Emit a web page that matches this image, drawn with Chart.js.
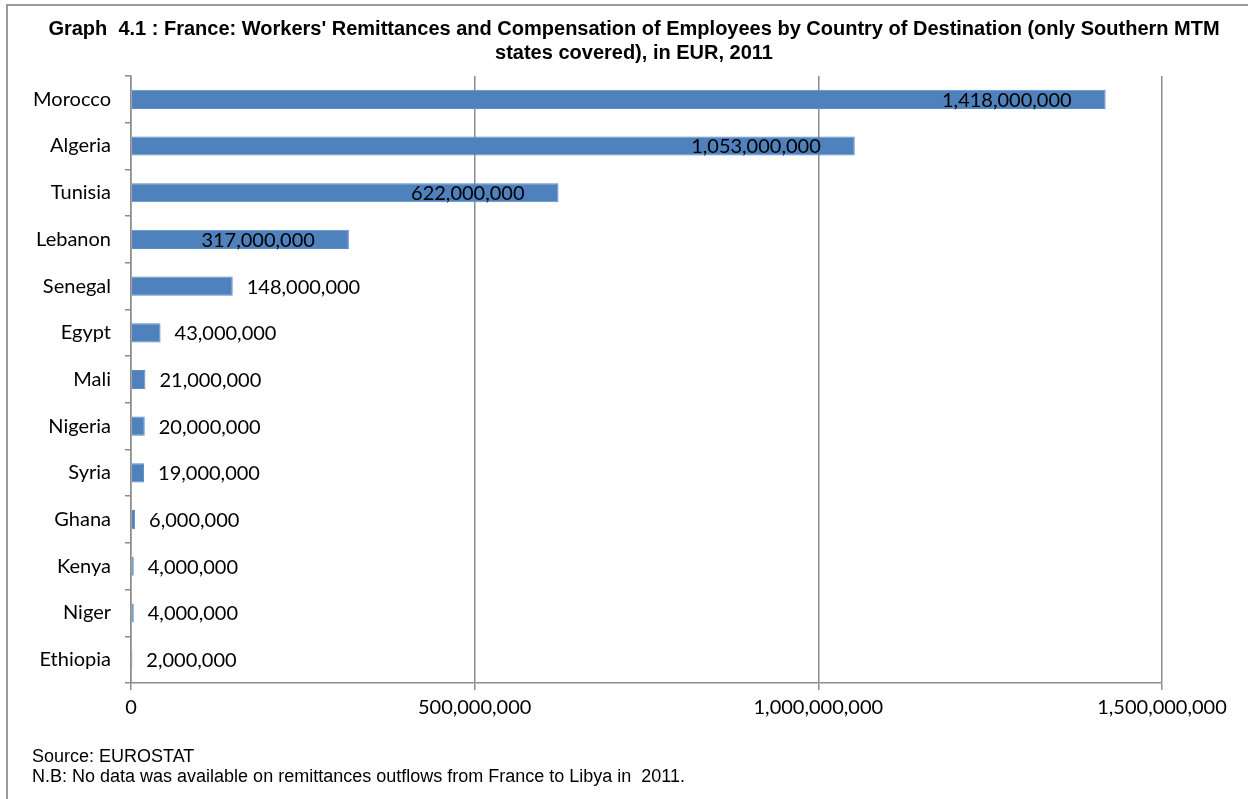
<!DOCTYPE html>
<html>
<head>
<meta charset="utf-8">
<script src="https://cdn.jsdelivr.net/npm/chart.js@4"></script>
<style>
  html, body { margin: 0; padding: 0; background: #fff; }
  #wrap { width: 1248px; height: 799px; position: relative; }
</style>
</head>
<body>
<div id="wrap"><canvas id="barChart" width="1248" height="799"></canvas></div>
<script>
// countries, top to bottom
var countries = ['Morocco', 'Algeria', 'Tunisia', 'Lebanon', 'Senegal', 'Egypt', 'Mali',
                 'Nigeria', 'Syria', 'Ghana', 'Kenya', 'Niger', 'Ethiopia'];
// remittances in EUR, 2011
var remittances = [1418000000, 1053000000, 622000000, 317000000, 148000000, 43000000, 21000000,
                   20000000, 19000000, 6000000, 4000000, 4000000, 2000000];
var xTicks = [0, 500000000, 1000000000, 1500000000];

var titleLines = [
    "Graph  4.1 : France: Workers' Remittances and Compensation of Employees by Country of Destination (only Southern MTM",
    "states covered), in EUR, 2011"
];
var noteLines = [
    'Source: EUROSTAT',
    'N.B: No data was available on remittances outflows from France to Libya in  2011.'
];

var labelFont = '20px Lato, "Open Sans", sans-serif';

function fmt(v) {
    return v.toLocaleString('en-US');
}

// frame, title and notes
var decorations = {
    id: 'decorations',
    beforeDraw: function (chart) {
        var ctx = chart.ctx;
        ctx.save();
        ctx.fillStyle = '#fff';
        ctx.fillRect(0, 0, chart.width, chart.height);
        ctx.strokeStyle = '#9a9a9a';
        ctx.lineWidth = 2;
        ctx.beginPath();
        ctx.moveTo(7, 810);
        ctx.lineTo(7, 5);
        ctx.lineTo(1260, 5);
        ctx.stroke();
        ctx.restore();
    },
    afterDraw: function (chart) {
        var ctx = chart.ctx;
        ctx.save();
        ctx.fillStyle = '#000';
        ctx.font = 'bold 20px "Liberation Sans", Arial, sans-serif';
        ctx.textAlign = 'center';
        ctx.textBaseline = 'middle';
        ctx.fillText(titleLines[0], 634, 29);
        ctx.fillText(titleLines[1], 634, 53);
        ctx.font = '18px "Liberation Sans", Arial, sans-serif';
        ctx.textAlign = 'left';
        ctx.fillText(noteLines[0], 32, 757);
        ctx.fillText(noteLines[1], 32, 777);
        ctx.restore();
    }
};

// value labels: inside the end of long bars, beside short ones
var valueLabels = {
    id: 'valueLabels',
    afterDatasetsDraw: function (chart) {
        var ctx = chart.ctx;
        var meta = chart.getDatasetMeta(0);
        var left = chart.chartArea.left;
        ctx.save();
        ctx.font = labelFont;
        ctx.fillStyle = '#000';
        ctx.textBaseline = 'middle';
        meta.data.forEach(function (bar, i) {
            var txt = fmt(remittances[i]);
            var w = ctx.measureText(txt).width;
            var x = bar.x + 14;
            if (bar.x - left > 200) {
                x = bar.x - 34 - w;
            }
            ctx.fillText(txt, x, bar.y + 1);
        });
        ctx.restore();
    }
};

var ctx = document.getElementById('barChart').getContext('2d');
window.myBarChart = new Chart(ctx, {
    type: 'bar',
    data: {
        labels: countries,
        datasets: [{
            data: remittances,
            backgroundColor: '#4F81BD',
            borderColor: '#5B8CC6',
            borderWidth: 1,
            barPercentage: 0.41,
            categoryPercentage: 1.0
        }]
    },
    options: {
        indexAxis: 'y',
        responsive: false,
        animation: false,
        layout: {
            padding: { left: 0, right: 86, top: 76, bottom: 66 }
        },
        plugins: {
            legend: { display: false },
            tooltip: { enabled: false },
            title: { display: false }
        },
        scales: {
            x: {
                min: 0,
                max: 1500000000,
                afterBuildTicks: function (scale) {
                    scale.ticks = xTicks.map(function (v) { return { value: v }; });
                },
                afterFit: function (scale) { scale.height = 50; },
                ticks: {
                    color: '#000',
                    font: { family: 'Lato, "Open Sans", sans-serif', size: 20 },
                    padding: 6,
                    maxRotation: 0,
                    callback: function (v) { return fmt(v); }
                },
                grid: {
                    color: '#8c8c8c',
                    lineWidth: 1.5,
                    tickLength: 7
                },
                border: { color: '#8c8c8c', width: 1.5 }
            },
            y: {
                afterFit: function (scale) { scale.width = 131; },
                ticks: {
                    color: '#000',
                    font: { family: 'Lato, "Open Sans", sans-serif', size: 20 },
                    padding: 14
                },
                grid: {
                    offset: true,
                    drawOnChartArea: false,
                    color: '#8c8c8c',
                    lineWidth: 1.5,
                    tickLength: 6
                },
                border: { color: '#8c8c8c', width: 1.5 }
            }
        }
    },
    plugins: [decorations, valueLabels]
});
</script>
</body>
</html>
